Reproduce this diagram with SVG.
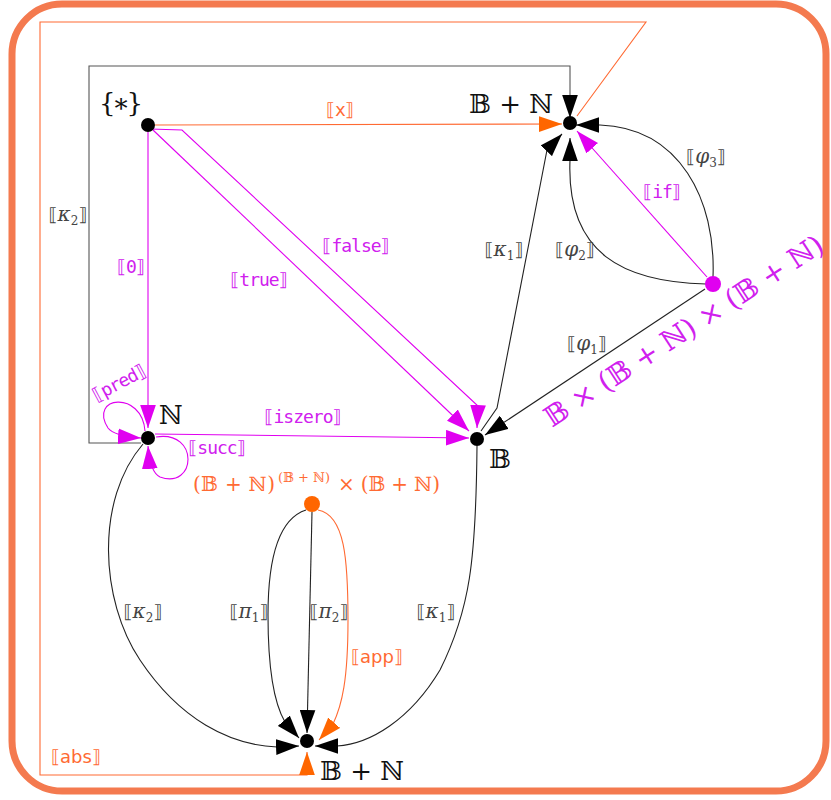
<svg xmlns="http://www.w3.org/2000/svg" width="831" height="800" viewBox="0 0 831 800">
<defs>
<style>
.frame{fill:none;stroke:#F47A4F;stroke-width:7}
.e{fill:none;stroke-width:1.1}
.bk{stroke:#222}
.gr{stroke:#555}
.mg{stroke:#E000F0}
.or{stroke:#FF6A33}
.lbl{font-family:"DejaVu Sans","Liberation Sans",sans-serif;font-size:18px;text-anchor:middle}
.mono{font-family:"DejaVu Sans Mono","Liberation Mono",monospace;letter-spacing:-1px}
.math{font-family:"DejaVu Serif","DejaVu Sans",serif}
.gk{font-style:italic;font-size:20px}
.sub{font-size:12px}
.tb{fill:#444}
.tm{fill:#D020EE}
.to{fill:#FF6A33}
.big{font-family:"DejaVu Serif","DejaVu Sans",serif;font-size:26px;fill:#111}
</style>
<marker id="ak" markerUnits="userSpaceOnUse" markerWidth="23" markerHeight="16" viewBox="0 0 22 15" refX="22" refY="7.5" orient="auto"><path d="M0,0 L22,7.5 L0,15 z" fill="#000"/></marker>
<marker id="am" markerUnits="userSpaceOnUse" markerWidth="23" markerHeight="16" viewBox="0 0 22 15" refX="22" refY="7.5" orient="auto"><path d="M0,0 L22,7.5 L0,15 z" fill="#E000F0"/></marker>
<marker id="ao" markerUnits="userSpaceOnUse" markerWidth="23" markerHeight="16" viewBox="0 0 22 15" refX="22" refY="7.5" orient="auto"><path d="M0,0 L22,7.5 L0,15 z" fill="#FF6600"/></marker>
</defs>
<rect class="frame" x="12" y="4" width="814" height="787" rx="50" ry="50"/>
<g id="connectors">
<path id="e-abs" class="e or" d="M577,116 L646,22 L40,22 L40,775 L307,775 L307,752" marker-end="url(#ao)"/>
<path id="e-x" class="e or" d="M155,125 L562,124" marker-end="url(#ao)"/>
<path id="e-k2top" class="e gr" d="M141,443 L89,443 L89,66 L570,66 L570,118" marker-end="url(#ak)"/>
<path id="e-0" class="e mg" d="M148,132 L148,428" marker-end="url(#am)"/>
<path id="e-true" class="e mg" d="M153,130 L469,431" marker-end="url(#am)"/>
<path id="e-false" class="e mg" d="M150,129 L182,130 L478,406 L477,428" marker-end="url(#am)"/>
<path id="e-iszero" class="e mg" d="M155,434 L469,438" marker-end="url(#am)"/>
<path id="e-pred" class="e mg" d="M145,431 C142,390 88,396 108,428 Q114,436 141,438" marker-end="url(#am)"/>
<path id="e-succ" class="e mg" d="M156,437 C200,430 196,490 160,477 Q150,472 148,446" marker-end="url(#am)"/>
<path id="e-k1top" class="e bk" d="M481,431 L497,408 L547,150 L562,134" marker-end="url(#ak)"/>
<path id="e-phi2" class="e bk" d="M706,284 C625,282 566,255 570,160 L570,138" marker-end="url(#ak)"/>
<path id="e-phi3" class="e bk" d="M713,277 C716,200 680,128 600,125 L576,125" marker-end="url(#ak)"/>
<path id="e-if" class="e mg" d="M707,277 L577,131" marker-end="url(#am)"/>
<path id="e-phi1" class="e bk" d="M705,289 L485,435" marker-end="url(#ak)"/>
<path id="e-k2bot" class="e bk" d="M143,444 C95,500 100,600 140,660 C180,720 230,745 277,747 L299,746" marker-end="url(#ak)"/>
<path id="e-k1bot" class="e bk" d="M477,446 C476,560 470,610 440,670 C410,720 370,744 337,746 L315,746" marker-end="url(#ak)"/>
<path id="e-pi1" class="e bk" d="M306,510 C275,520 268,570 268,615 C268,670 275,705 285,722 L299,738" marker-end="url(#ak)"/>
<path id="e-pi2" class="e bk" d="M312,512 L307,733" marker-end="url(#ak)"/>
<path id="e-app" class="e or" d="M318,510 C345,515 348,560 348,620 C348,680 342,705 333,724 L319,740" marker-end="url(#ao)"/>
<text class="lbl to" x="340" y="116">⟦<tspan class="mono">x</tspan>⟧</text>
<text class="lbl tb math" x="68" y="221">⟦<tspan class="gk">κ</tspan><tspan class="sub" dy="4">2</tspan><tspan dy="-4">⟧</tspan></text>
<text class="lbl tm" x="131" y="273">⟦<tspan class="mono">0</tspan>⟧</text>
<text class="lbl tm" x="356" y="252">⟦<tspan class="mono">false</tspan>⟧</text>
<text class="lbl tm" x="259" y="286">⟦<tspan class="mono">true</tspan>⟧</text>
<text class="lbl tb math" x="504" y="256">⟦<tspan class="gk">κ</tspan><tspan class="sub" dy="4">1</tspan><tspan dy="-4">⟧</tspan></text>
<text class="lbl tb math" x="575" y="256">⟦<tspan class="gk">φ</tspan><tspan class="sub" dy="4">2</tspan><tspan dy="-4">⟧</tspan></text>
<text class="lbl tm" x="662" y="198">⟦<tspan class="mono">if</tspan>⟧</text>
<text class="lbl tb math" x="706" y="163">⟦<tspan class="gk">φ</tspan><tspan class="sub" dy="4">3</tspan><tspan dy="-4">⟧</tspan></text>
<text class="lbl tb math" x="587" y="350">⟦<tspan class="gk">φ</tspan><tspan class="sub" dy="4">1</tspan><tspan dy="-4">⟧</tspan></text>
<text class="lbl tm" x="119" y="389" transform="rotate(-28 119 383)">⟦<tspan class="mono">pred</tspan>⟧</text>
<text class="lbl tm" x="303" y="423">⟦<tspan class="mono">iszero</tspan>⟧</text>
<text class="lbl tm" x="217" y="454">⟦<tspan class="mono">succ</tspan>⟧</text>
<text class="lbl tb math" x="143" y="618">⟦<tspan class="gk">κ</tspan><tspan class="sub" dy="4">2</tspan><tspan dy="-4">⟧</tspan></text>
<text class="lbl tb math" x="249" y="618">⟦<tspan class="gk">π</tspan><tspan class="sub" dy="4">1</tspan><tspan dy="-4">⟧</tspan></text>
<text class="lbl tb math" x="329" y="618">⟦<tspan class="gk">π</tspan><tspan class="sub" dy="4">2</tspan><tspan dy="-4">⟧</tspan></text>
<text class="lbl to" x="377" y="663">⟦app⟧</text>
<text class="lbl tb math" x="436" y="618">⟦<tspan class="gk">κ</tspan><tspan class="sub" dy="4">1</tspan><tspan dy="-4">⟧</tspan></text>
<text class="lbl to" x="76" y="763">⟦abs⟧</text>
</g>
<g id="n-unit"><circle cx="148" cy="125" r="7" fill="#000"/><text class="big" x="99" y="112" font-size="27" textLength="44">{∗}</text></g>
<g id="n-bn-top"><circle cx="570" cy="123" r="7" fill="#000"/><text class="big" x="553" y="113" text-anchor="end">𝔹 + ℕ</text></g>
<g id="n-nat"><circle cx="148" cy="438" r="7" fill="#000"/><text class="big" x="159" y="424" font-size="25">ℕ</text></g>
<g id="n-bool"><circle cx="477" cy="439" r="7" fill="#000"/><text class="big" x="489" y="468" font-size="26">𝔹</text></g>
<g id="n-prod"><circle cx="713" cy="284" r="8" fill="#E000F0"/><text class="math" x="689" y="339" font-size="28" fill="#D020EE" text-anchor="middle" textLength="327" transform="rotate(-33 689 339)">𝔹 × (𝔹 + ℕ) × (𝔹 + ℕ)</text></g>
<g id="n-fun"><circle cx="312" cy="504" r="8" fill="#FF6600"/><text class="math" font-size="20" fill="#FF6A33"><tspan x="193" y="491" textLength="82">(𝔹 + ℕ)</tspan><tspan x="278" y="482" font-size="13" textLength="52">(𝔹 + ℕ)</tspan><tspan x="338" y="491" textLength="102">× (𝔹 + ℕ)</tspan></text></g>
<g id="n-bn-bot"><circle cx="307" cy="741" r="7" fill="#000"/><text class="big" x="320" y="780" textLength="84">𝔹 + ℕ</text></g>
</svg>
